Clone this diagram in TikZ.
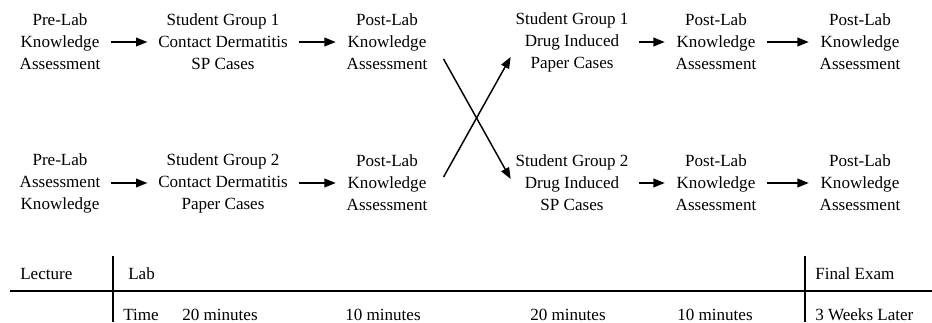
\documentclass[tikz,border=0pt]{standalone}
\usepackage{fontspec}
\setmainfont{Liberation Serif}
\usetikzlibrary{arrows.meta}
\tikzset{
  stage/.style ={align=center,inner xsep=8pt,inner ysep=2pt,font=\fontsize{12.8}{16.5}\selectfont},
  tag/.style   ={anchor=base west,inner sep=0pt,font=\fontsize{12.8}{15}\selectfont},
  ar/.style    ={-{Triangle[length=8.5pt,width=6.5pt]},line width=1.1pt},
  rule/.style  ={line width=1.4pt},
  sep/.style   ={line width=0.9pt},
}

\begin{document}
\begin{tikzpicture}[x=0.75pt,y=0.75pt]
  \useasboundingbox (0,0) rectangle (932,322);
  % first half of the lab
  \node[stage] (preA)  at (60,280)  {Pre-Lab\\Knowledge\\Assessment};
  \node[stage] (contA) at (223,280) {Student Group 1\\Contact Dermatitis\\SP Cases};
  \node[stage] (postA) at (387,280) {Post-Lab\\Knowledge\\Assessment};
  \node[stage] (preB)  at (60,139)  {Pre-Lab\\Assessment\\Knowledge};
  \node[stage] (contB) at (223,139) {Student Group 2\\Contact Dermatitis\\Paper Cases};
  \node[stage] (postB) at (387,139) {Post-Lab\\Knowledge\\Assessment};
  % second half, groups swapped
  \node[stage] (drugA) at (572,280) {Student Group 1\\Drug Induced\\Paper Cases};
  \node[stage] (labA)  at (716,280) {Post-Lab\\Knowledge\\Assessment};
  \node[stage] (examA) at (860,280) {Post-Lab\\Knowledge\\Assessment};
  \node[stage] (drugB) at (572,139) {Student Group 2\\Drug Induced\\SP Cases};
  \node[stage] (labB)  at (716,139) {Post-Lab\\Knowledge\\Assessment};
  \node[stage] (examB) at (860,139) {Post-Lab\\Knowledge\\Assessment};

  \draw[ar] (preA) -- (contA);
  \draw[ar] (contA) -- (postA);
  \draw[ar] (preB) -- (contB);
  \draw[ar] (contB) -- (postB);
  \draw[ar] (drugA) -- (labA);
  \draw[ar] (labA) -- (examA);
  \draw[ar] (drugB) -- (labB);
  \draw[ar] (labB) -- (examB);
  % crossover
  \draw[ar] ([shift={(4pt,-12.75pt)}]postA.east) -- ([shift={(4.5pt,3pt)}]drugB.west);
  \draw[ar] ([shift={(4pt,4.5pt)}]postB.east) -- ([shift={(4.5pt,-11.25pt)}]drugA.west);

  % time line
  \coordinate (ruleL) at (10,31);
  \coordinate (ruleR) at (932,31);
  \coordinate (sepAt) at (113,66);
  \coordinate (sepAb) at (113,0);
  \coordinate (sepBt) at (805,66);
  \coordinate (sepBb) at (805,0);
  \draw[rule] (ruleL) -- (ruleR);
  \draw[sep] (sepAt) -- (sepAb);
  \draw[sep] (sepBt) -- (sepBb);
  \node[tag] (lect) at (20,43)  {Lecture};
  \node[tag] (lab)  at (128,43) {Lab};
  \node[tag] (fin)  at (815,43) {Final Exam};
  \node[tag] (time) at (123,2)  {Time};
  \node[tag] (tA)   at (182,2)  {20 minutes};
  \node[tag] (tB)   at (345,2)  {10 minutes};
  \node[tag] (tC)   at (530,2)  {20 minutes};
  \node[tag] (tD)   at (677,2)  {10 minutes};
  \node[tag] (later) at (815,2) {3 Weeks Later};
\end{tikzpicture}
\end{document}
